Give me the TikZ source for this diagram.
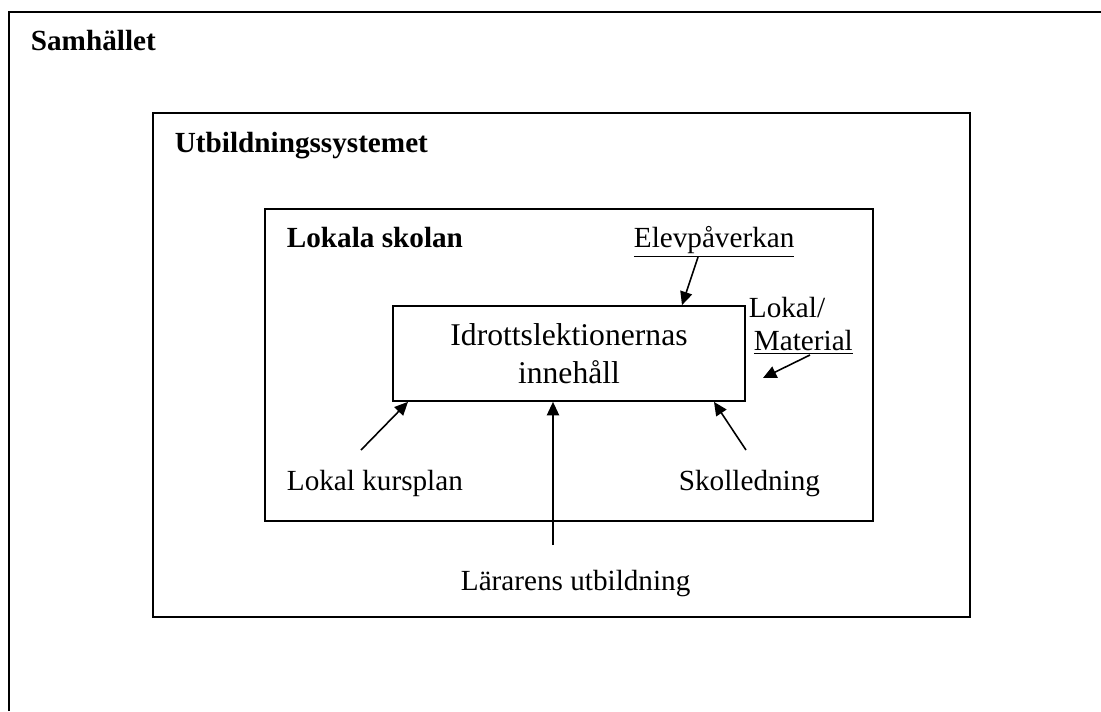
\documentclass[tikz,border=0pt]{standalone}
\usepackage{fontspec}
\setmainfont{Liberation Serif}
\usetikzlibrary{arrows.meta}

\begin{document}
\begin{tikzpicture}[x=0.411pt,y=-0.411pt,line width=0.75pt,
  every node/.style={font=\fontsize{12}{14}\selectfont},
  rubrik/.style={anchor=base west,inner sep=0pt,font=\fontsize{12}{14}\selectfont\bfseries},
  etikett/.style={anchor=base west,inner sep=0pt},
  pil/.style={-{Triangle[length=5.5pt,width=5pt]},line width=0.65pt}]
\useasboundingbox (0,0) rectangle (1101,711);
\draw (9,711) -- (9,12) -- (1101,12);
\draw (153,113) rectangle (970,617);
\draw (265,209) rectangle (873,521);
\node[rubrik] (samhallet) at (30,50) {Samhället};
\node[rubrik] (utbildning) at (174,152) {Utbildningssystemet};
\node[rubrik] (lokala) at (286,247) {Lokala skolan};
\node[draw,minimum width=144.7pt,minimum height=39pt,inner sep=0pt,align=center,
  font=\fontsize{13}{15.6}\selectfont] (inner) at (569,353.5) {Idrottslektionernas\\innehåll};
\node[etikett] (elev) at (633,247) {\underline{Elevpåverkan}};
\node[etikett] (lokal) at (748,317) {Lokal/};
\node[etikett] (material) at (753,350) {\underline{Material}};
\node[etikett] (kursplan) at (286,490) {Lokal kursplan};
\node[etikett] (skolledning) at (678,490) {Skolledning};
\node[etikett] (lararen) at (460,590) {Lärarens utbildning};
\coordinate (t-elev) at (698,257);
\coordinate (t-mat) at (810,355);
\coordinate (h-mat) at (763,378);
\coordinate (t-kurs) at (361,450);
\coordinate (t-larare) at (553,545);
\coordinate (t-skol) at (746,450);
\draw[pil] (t-elev) -- (682,0 |- inner.north);
\draw[pil] (t-mat) -- (h-mat);
\draw[pil] (t-kurs) -- (408,0 |- inner.south);
\draw[pil] (t-larare) -- (553,0 |- inner.south);
\draw[pil] (t-skol) -- (714,0 |- inner.south);
\end{tikzpicture}
\end{document}
